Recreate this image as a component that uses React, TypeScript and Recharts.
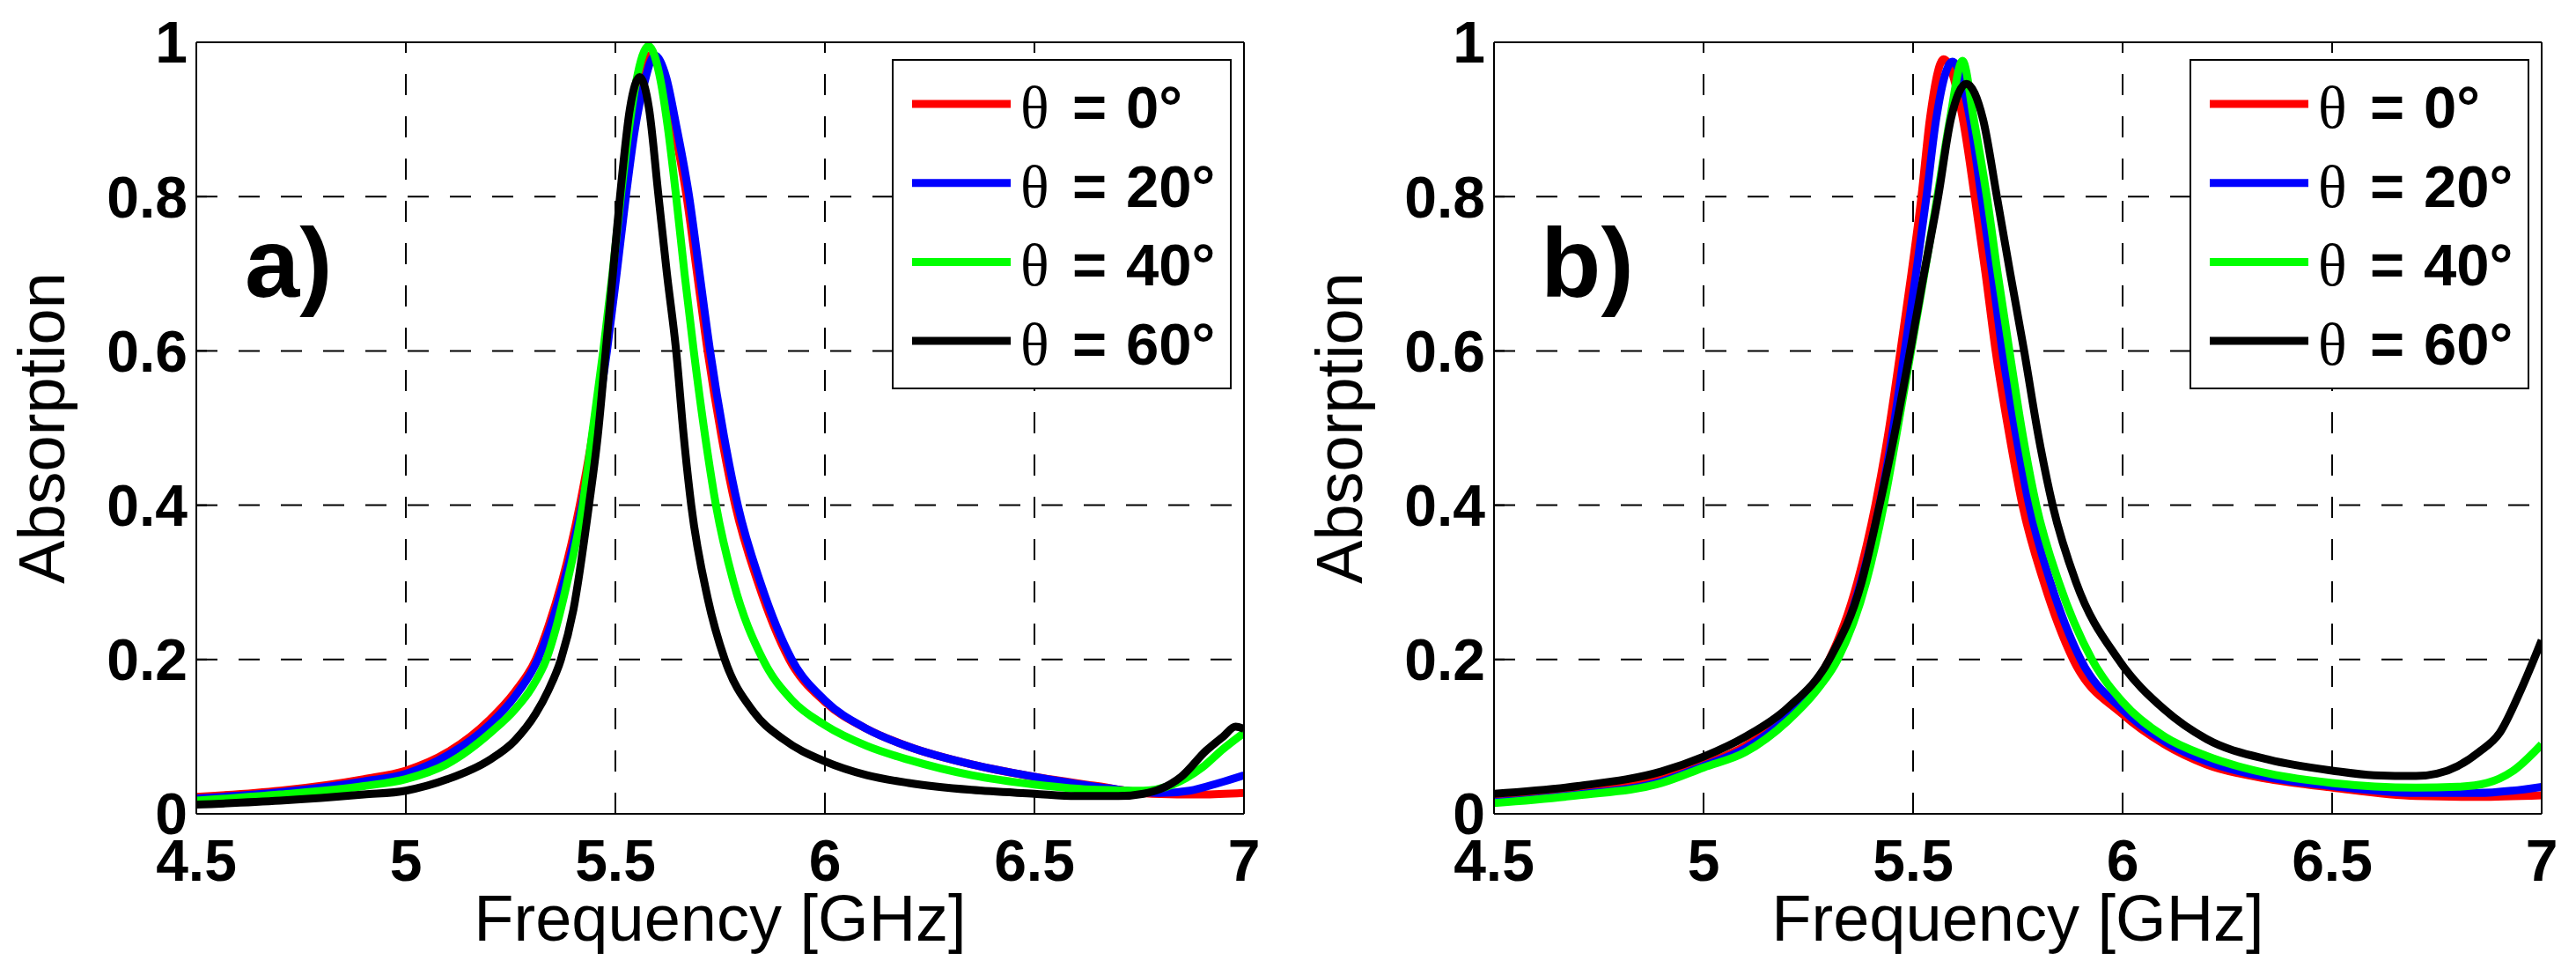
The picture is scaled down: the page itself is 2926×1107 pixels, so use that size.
import React from 'react';
import { LineChart, Line, XAxis, YAxis, CartesianGrid, Legend } from 'recharts';

// ---------- ticks / labels ----------
const xTicks = [4.5, 5, 5.5, 6, 6.5, 7];
const yTicks = [0, 0.2, 0.4, 0.6, 0.8, 1];
const seriesNames = ['θ = 0°', 'θ = 20°', 'θ = 40°', 'θ = 60°'];
const seriesColors = ['#ff0000', '#0000ff', '#00ff00', '#000000'];
const panelLabels = ['a)', 'b)'];
const xTitle = 'Frequency [GHz]';
const yTitle = 'Absorption';

// ---------- panel a) ----------
const a0F = [4.5, 4.7, 4.9, 5.0, 5.1, 5.2, 5.26, 5.31, 5.34, 5.372, 5.415, 5.445, 5.474, 5.497, 5.519, 5.54, 5.56, 5.588, 5.615, 5.64, 5.67, 5.695, 5.72, 5.753, 5.786, 5.84, 5.915, 6.0, 6.1, 6.2, 6.35, 6.5, 6.65, 6.78, 6.9, 7.0];
const a0A = [0.022, 0.03, 0.045, 0.056, 0.08, 0.122, 0.158, 0.2, 0.243, 0.3, 0.4, 0.49, 0.6, 0.7, 0.8, 0.885, 0.945, 0.985, 0.955, 0.89, 0.8, 0.7, 0.6, 0.49, 0.4, 0.3, 0.2, 0.145, 0.11, 0.087, 0.064, 0.048, 0.036, 0.026, 0.025, 0.027];

const a1F = [4.5, 4.7, 4.9, 5.0, 5.1, 5.2, 5.26, 5.315, 5.345, 5.377, 5.42, 5.45, 5.48, 5.503, 5.525, 5.546, 5.566, 5.594, 5.621, 5.646, 5.676, 5.701, 5.726, 5.759, 5.792, 5.846, 5.921, 6.0, 6.1, 6.2, 6.35, 6.5, 6.65, 6.8, 6.87, 6.94, 7.0];
const a1A = [0.02, 0.028, 0.042, 0.052, 0.076, 0.116, 0.152, 0.2, 0.243, 0.3, 0.4, 0.49, 0.6, 0.7, 0.8, 0.885, 0.94, 0.983, 0.955, 0.89, 0.8, 0.7, 0.6, 0.49, 0.4, 0.3, 0.2, 0.147, 0.11, 0.087, 0.064, 0.048, 0.035, 0.027, 0.03, 0.04, 0.05];

const a2F = [4.5, 4.7, 4.9, 5.0, 5.1, 5.208, 5.26, 5.3, 5.335, 5.385, 5.422, 5.444, 5.471, 5.493, 5.513, 5.533, 5.55, 5.579, 5.608, 5.625, 5.645, 5.665, 5.687, 5.714, 5.74, 5.782, 5.852, 5.922, 6.0, 6.1, 6.2, 6.35, 6.5, 6.65, 6.76, 6.83, 6.9, 6.95, 7.0];
const a2A = [0.017, 0.025, 0.036, 0.045, 0.065, 0.108, 0.135, 0.163, 0.2, 0.3, 0.4, 0.49, 0.6, 0.7, 0.8, 0.89, 0.95, 0.995, 0.95, 0.89, 0.8, 0.7, 0.6, 0.49, 0.4, 0.3, 0.2, 0.147, 0.115, 0.088, 0.07, 0.05, 0.038, 0.031, 0.03, 0.038, 0.06, 0.084, 0.105];

const a3F = [4.5, 4.7, 4.9, 5.0, 5.1, 5.2, 5.26, 5.31, 5.34, 5.37, 5.4, 5.437, 5.458, 5.477, 5.494, 5.511, 5.535, 5.558, 5.58, 5.603, 5.623, 5.645, 5.663, 5.681, 5.72, 5.761, 5.83, 5.9, 6.0, 6.1, 6.2, 6.35, 6.5, 6.6, 6.7, 6.76, 6.8, 6.85, 6.91, 6.95, 6.98, 7.0];
const a3A = [0.012, 0.017, 0.025, 0.03, 0.045, 0.07, 0.095, 0.13, 0.16, 0.2, 0.265, 0.4, 0.49, 0.6, 0.7, 0.8, 0.915, 0.955, 0.915, 0.8, 0.7, 0.6, 0.49, 0.4, 0.28, 0.2, 0.132, 0.097, 0.068, 0.05, 0.04, 0.031, 0.026, 0.023, 0.023, 0.026, 0.032, 0.048, 0.082, 0.1, 0.113, 0.11];

// ---------- panel b) ----------
const b0F = [4.5, 4.7, 4.9, 5.0, 5.1, 5.2, 5.26, 5.3, 5.367, 5.41, 5.44, 5.47, 5.496, 5.52, 5.54, 5.573, 5.619, 5.647, 5.673, 5.697, 5.73, 5.761, 5.812, 5.882, 6.0, 6.1, 6.2, 6.35, 6.5, 6.7, 6.85, 7.0];
const b0A = [0.017, 0.028, 0.045, 0.064, 0.088, 0.13, 0.165, 0.2, 0.3, 0.4, 0.49, 0.6, 0.7, 0.8, 0.9, 0.978, 0.9, 0.8, 0.7, 0.6, 0.49, 0.4, 0.3, 0.2, 0.129, 0.09, 0.064, 0.045, 0.034, 0.023, 0.022, 0.024];

const b1F = [4.5, 4.7, 4.9, 5.0, 5.1, 5.2, 5.26, 5.305, 5.375, 5.42, 5.45, 5.48, 5.507, 5.532, 5.555, 5.594, 5.636, 5.663, 5.689, 5.713, 5.746, 5.777, 5.828, 5.9, 6.0, 6.1, 6.2, 6.35, 6.5, 6.7, 6.85, 6.93, 7.0];
const b1A = [0.015, 0.025, 0.042, 0.062, 0.085, 0.125, 0.16, 0.195, 0.3, 0.4, 0.49, 0.6, 0.7, 0.8, 0.9, 0.975, 0.9, 0.8, 0.7, 0.6, 0.49, 0.4, 0.3, 0.2, 0.135, 0.094, 0.068, 0.047, 0.036, 0.027, 0.027, 0.03, 0.035];

const b2F = [4.5, 4.7, 4.9, 5.0, 5.1, 5.2, 5.27, 5.32, 5.388, 5.43, 5.46, 5.495, 5.527, 5.558, 5.588, 5.618, 5.645, 5.676, 5.702, 5.73, 5.762, 5.794, 5.848, 5.927, 6.0, 6.1, 6.2, 6.35, 6.5, 6.7, 6.8, 6.87, 6.93, 7.0];
const b2A = [0.014, 0.024, 0.04, 0.06, 0.08, 0.12, 0.16, 0.2, 0.3, 0.4, 0.49, 0.6, 0.7, 0.8, 0.9, 0.976, 0.9, 0.8, 0.7, 0.6, 0.49, 0.4, 0.3, 0.2, 0.145, 0.1, 0.075, 0.052, 0.04, 0.034, 0.035, 0.04, 0.055, 0.09];

const b3F = [4.5, 4.7, 4.9, 5.0, 5.1, 5.2, 5.3, 5.377, 5.42, 5.455, 5.493, 5.526, 5.56, 5.59, 5.627, 5.667, 5.7, 5.732, 5.765, 5.799, 5.833, 5.889, 5.99, 6.1, 6.2, 6.35, 6.5, 6.6, 6.7, 6.75, 6.8, 6.85, 6.9, 6.95, 7.0];
const b3A = [0.026, 0.036, 0.055, 0.074, 0.1, 0.137, 0.2, 0.3, 0.4, 0.49, 0.6, 0.7, 0.8, 0.9, 0.946, 0.9, 0.8, 0.7, 0.6, 0.49, 0.4, 0.3, 0.2, 0.135, 0.097, 0.07, 0.056, 0.05, 0.049, 0.052, 0.062, 0.08, 0.105, 0.16, 0.225];

// ---------- helpers ----------
const zip = (f: number[], a: number[]) => f.map((v, i) => ({ f: v, a: a[i] }));
const build = (pairs: [number[], number[]][]) =>
  pairs.map(([f, a], i) => ({ name: seriesNames[i], color: seriesColors[i], data: zip(f, a) }));

const panelA = build([[a0F, a0A], [a1F, a1A], [a2F, a2A], [a3F, a3A]]);
const panelB = build([[b0F, b0A], [b1F, b1A], [b2F, b2A], [b3F, b3A]]);

const SANS = "'Liberation Sans', Arial, Helvetica, sans-serif";
const SERIF = "'Liberation Serif', 'Times New Roman', serif";

const CHART_W = 1463;
const CHART_H = 1107;
const PLOT_W = 1190;
const PLOT_TOP = 48;
const PLOT_BOTTOM_MARGIN = 183;
const BOTTOM_AXIS_H = 100;
const TOP_AXIS_H = 10;
const LEFT_AXIS_W = 100;
const RIGHT_AXIS_W = 10;

const tickStyle = { fill: '#000', fontSize: 66, fontWeight: 'bold', fontFamily: SANS } as any;

const LegendBox = (props: any) => {
  const payload = props.payload || [];
  return (
    <svg width={386} height={375} style={{ display: 'block' }}>
      <rect x={1} y={1} width={384} height={373} fill="#fff" stroke="#000" strokeWidth={2} />
      {payload.map((p: any, i: number) => {
        const cy = 51 + i * 89.7;
        const label: string = String(p.value);
        const rest = label.slice(1).trim(); // "= 0°"
        const eq = rest.slice(0, 1);
        const num = rest.slice(1).trim();
        return (
          <g key={label}>
            <line x1={23} x2={135} y1={cy} y2={cy} stroke={p.color} strokeWidth={9} />
            <text y={cy + 27} fill="#000">
              <tspan x={146} fontFamily={SERIF} fontSize={68}>{label.slice(0, 1)}</tspan>
              <tspan x={205} fontFamily={SANS} fontWeight="bold" fontSize={67}>{eq}</tspan>
              <tspan x={266} fontFamily={SANS} fontWeight="bold" fontSize={67}>{num}</tspan>
            </text>
          </g>
        );
      })}
    </svg>
  );
};

const VLine = (p: any) => (
  <line
    key={`v-${p.x1}`}
    x1={p.x1}
    y1={p.y1}
    x2={p.x2}
    y2={p.y2}
    stroke="#000"
    strokeWidth={2}
    strokeDasharray="24 24"
    strokeDashoffset={12}
    fill="none"
  />
);

function Panel({ left, plotLeft, series }: { left: number; plotLeft: number; series: any[] }) {
  const rightMargin = CHART_W - plotLeft - PLOT_W;
  const legendLeft = plotLeft + PLOT_W - 14 - 386;
  return (
    <div style={{ position: 'absolute', left, top: 0, width: CHART_W, height: CHART_H }}>
      <LineChart
        width={CHART_W}
        height={CHART_H}
        margin={{
          top: PLOT_TOP - TOP_AXIS_H,
          right: rightMargin - RIGHT_AXIS_W,
          bottom: PLOT_BOTTOM_MARGIN - BOTTOM_AXIS_H,
          left: plotLeft - LEFT_AXIS_W,
        }}
      >
        <CartesianGrid stroke="#000" strokeWidth={2} strokeDasharray="24 24" vertical={VLine} />
        {series.map((s) => (
          <Line
            key={s.name}
            data={s.data}
            dataKey="a"
            name={s.name}
            stroke={s.color}
            strokeWidth={9}
            dot={false}
            activeDot={false}
            type="monotone"
            legendType="line"
            isAnimationActive={false}
          />
        ))}
        <XAxis
          dataKey="f"
          type="number"
          domain={[4.5, 7]}
          ticks={xTicks}
          interval={0}
          height={BOTTOM_AXIS_H}
          allowDataOverflow
          axisLine={{ stroke: '#000', strokeWidth: 2 }}
          tickLine={{ stroke: '#000', strokeWidth: 2 }}
          tickSize={-12}
          tickMargin={41}
          tick={tickStyle}
        />
        <XAxis
          xAxisId="top"
          orientation="top"
          dataKey="f"
          type="number"
          domain={[4.5, 7]}
          ticks={xTicks}
          interval={0}
          height={TOP_AXIS_H}
          allowDataOverflow
          axisLine={{ stroke: '#000', strokeWidth: 2 }}
          tickLine={{ stroke: '#000', strokeWidth: 2 }}
          tickSize={-12}
          tick={false}
        />
        <YAxis
          type="number"
          domain={[0, 1]}
          ticks={yTicks}
          interval={0}
          width={LEFT_AXIS_W}
          allowDataOverflow
          axisLine={{ stroke: '#000', strokeWidth: 2 }}
          tickLine={{ stroke: '#000', strokeWidth: 2 }}
          tickSize={-12}
          tickMargin={22}
          tick={tickStyle}
        />
        <YAxis
          yAxisId="right"
          orientation="right"
          type="number"
          domain={[0, 1]}
          ticks={yTicks}
          interval={0}
          width={RIGHT_AXIS_W}
          allowDataOverflow
          axisLine={{ stroke: '#000', strokeWidth: 2 }}
          tickLine={{ stroke: '#000', strokeWidth: 2 }}
          tickSize={-12}
          tick={false}
        />
        <Legend
          layout="vertical"
          align="center"
          verticalAlign="middle"
          wrapperStyle={{ left: legendLeft, top: 67, width: 386, height: 375 }}
          content={LegendBox}
        />
      </LineChart>
    </div>
  );
}

const plotLefts = [223, 1697];

export default function App() {
  return (
    <div style={{ position: 'absolute', left: 0, top: 0, width: 2926, height: 1107, background: '#fff', overflow: 'hidden' }}>
      <Panel left={0} plotLeft={plotLefts[0]} series={panelA} />
      <Panel left={CHART_W} plotLeft={plotLefts[1] - CHART_W} series={panelB} />
      <svg
        width={2926}
        height={1107}
        style={{ position: 'absolute', left: 0, top: 0, pointerEvents: 'none' }}
      >
        {plotLefts.map((pl, i) => {
          const cx = pl + PLOT_W / 2;
          const cy = PLOT_TOP + (CHART_H - PLOT_TOP - PLOT_BOTTOM_MARGIN) / 2;
          return (
            <g key={i}>
              <text x={pl + (i === 0 ? 55 : 53)} y={337} fontFamily={SANS} fontWeight="bold" fontSize={112} fill="#000">
                {panelLabels[i]}
              </text>
              <text
                x={pl - 150}
                y={cy}
                textAnchor="middle"
                transform={`rotate(-90 ${pl - 150} ${cy})`}
                fontFamily={SANS}
                fontSize={74}
                fill="#000"
              >
                {yTitle}
              </text>
              <text x={cx} y={1068} textAnchor="middle" fontFamily={SANS} fontSize={74} fill="#000">
                {xTitle}
              </text>
            </g>
          );
        })}
      </svg>
    </div>
  );
}
